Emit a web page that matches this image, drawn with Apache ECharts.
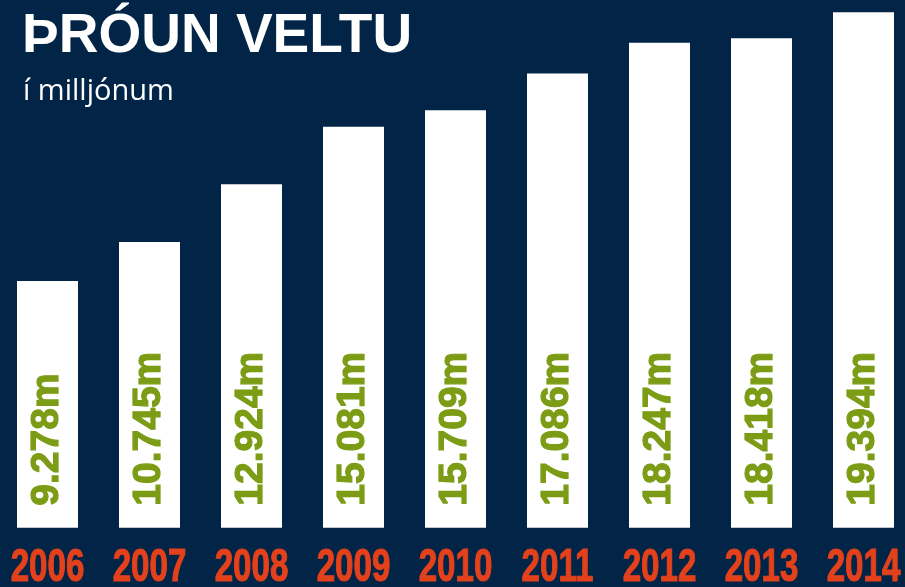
<!DOCTYPE html>
<html><head><meta charset="utf-8">
<script src="https://cdn.jsdelivr.net/npm/echarts@6/dist/echarts.min.js"></script>
<style>html,body{margin:0;padding:0;background:#012447;}#c{width:905px;height:587px;}</style>
</head><body><div id="c"></div>
<script>
const years = ['2006','2007','2008','2009','2010','2011','2012','2013','2014'];
const values = [9.278, 10.745, 12.924, 15.081, 15.709, 17.086, 18.247, 18.418, 19.394];
const valueLabels = ['9.278m','10.745m','12.924m','15.081m','15.709m','17.086m','18.247m','18.418m','19.394m'];
const titleText = 'ÞRÓUN VELTU';
const subtitleText = 'í milljónum';

const chart = echarts.init(document.getElementById('c'), null, {renderer:'canvas'});
chart.setOption({
  backgroundColor: '#012447',
  animation: false,
  title: [
    {text: titleText, left: 17, top: 4, textStyle: {color:'#ffffff', fontFamily:'Liberation Sans', fontWeight:'bold', fontSize:55}},
    {text: subtitleText, left: 18, top: 72, textStyle: {color:'#ffffff', fontFamily:'Open Sans', fontWeight:'normal', fontSize:29}}
  ],
  grid: {left: -3.5, right: -9.5, top: 0, bottom: 59.3, containLabel: false, outerBoundsMode: 'none'},
  xAxis: {
    type: 'category', data: years, boundaryGap: true,
    axisLine: {show:false}, axisTick: {show:false},
    axisLabel: {show:false}
  },
  yAxis: {type:'value', min:0, max: 19.394*527.7/515.5, show:false, splitLine:{show:false}},
  series: [{
    type: 'bar', data: values, barWidth: 61,
    itemStyle: {color:'#ffffff'},
    label: {
      show: true, position: 'insideBottom', rotate: 90, align: 'left', verticalAlign: 'middle',
      distance: 22, color:'#7b9c14', fontFamily:'Liberation Sans', fontWeight:'bold', fontSize:39,
      textBorderColor:'#7b9c14', textBorderWidth:1.2,
      formatter: p => valueLabels[p.dataIndex]
    }
  }]
});

// Condensed year labels positioned through the category axis scale
const baseY = chart.convertToPixel({yAxisIndex:0}, 0);
chart.setOption({
  graphic: years.map(y => ({
    type: 'text',
    x: chart.convertToPixel({xAxisIndex:0}, y),
    y: baseY + 41,
    scaleX: 0.72,
    style: {
      text: y, fill: '#e2411b', stroke: '#e2411b', lineWidth: 1.2,
      font: 'bold 46px "Liberation Sans"',
      textAlign: 'center', textVerticalAlign: 'middle'
    }
  }))
});
</script></body></html>
